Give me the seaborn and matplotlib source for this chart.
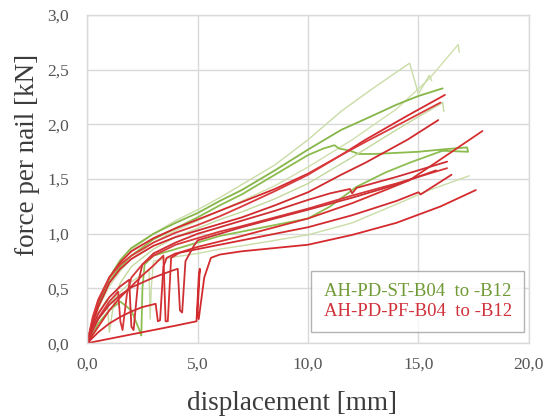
import matplotlib
matplotlib.use("Agg")
import matplotlib.pyplot as plt
from matplotlib.lines import Line2D
import pandas as pd
import seaborn as sns

# displacement [mm] / force per nail [kN]
st_curves = {
    "ST-1": ([0, 0.25, 0.5, 1, 1.5, 2, 3, 4, 5, 6, 7, 8.5, 10, 12, 14, 15.5, 16.8, 16.85],
             [0, 0.18, 0.32, 0.52, 0.66, 0.77, 0.92, 1.03, 1.12, 1.21, 1.3, 1.44, 1.61, 1.86, 2.14, 2.42, 2.73, 2.66]),
    "ST-2": ([0, 0.25, 0.5, 1, 1.5, 2, 3, 4, 5, 6, 7, 8.5, 10, 11.5, 12.8, 13.8, 14.6, 15.0, 15.5, 15.6],
             [0, 0.2, 0.36, 0.58, 0.73, 0.85, 1.0, 1.12, 1.22, 1.33, 1.45, 1.63, 1.86, 2.12, 2.31, 2.45, 2.56, 2.28, 2.45, 2.4]),
    "ST-3": ([0, 0.25, 0.5, 1, 1.5, 2, 3, 4, 5, 6, 7, 8.5, 10, 11.5, 12.6, 14, 15, 16.1],
             [0, 0.22, 0.38, 0.6, 0.76, 0.87, 1.0, 1.1, 1.19, 1.3, 1.4, 1.58, 1.77, 1.95, 2.05, 2.18, 2.26, 2.33]),
    "ST-4": ([0, 0.25, 0.5, 1, 1.5, 2, 3, 4, 5, 6, 7, 8.5, 10, 10.7, 11.2, 11.4, 11.9, 12.3, 13, 14, 15, 16, 17.2, 17.25, 16.0],
             [0, 0.2, 0.35, 0.56, 0.7, 0.8, 0.95, 1.05, 1.15, 1.26, 1.36, 1.54, 1.72, 1.78, 1.81, 1.78, 1.76, 1.73, 1.73, 1.74, 1.75, 1.77, 1.79, 1.75, 1.76]),
    "ST-5": ([0, 0.5, 1, 1.5, 2.0, 2.4, 2.45, 2.5, 2.6, 3, 4, 5, 6, 7, 8.5, 10, 11, 12.2, 13.5, 14.6, 16.1],
             [0, 0.18, 0.3, 0.38, 0.3, 0.1, 0.07, 0.5, 0.72, 0.8, 0.86, 0.92, 0.98, 1.02, 1.08, 1.14, 1.25, 1.43, 1.56, 1.65, 1.76]),
    "ST-6": ([0, 0.25, 0.5, 1, 1.5, 2, 2.5, 2.8, 2.85, 2.9, 3.0, 4, 5, 6, 7, 8.5, 10, 12, 14, 15.5, 17.3],
             [0, 0.12, 0.22, 0.36, 0.47, 0.56, 0.63, 0.67, 0.22, 0.5, 0.75, 0.79, 0.82, 0.86, 0.89, 0.94, 0.99, 1.1, 1.27, 1.4, 1.53]),
    "ST-7": ([0, 0.25, 0.5, 0.9, 1.0, 1.15, 1.3, 1.5, 2, 3, 4, 5, 6, 7, 8.5, 10, 12, 14, 15, 16.1, 16.15],
             [0, 0.15, 0.28, 0.4, 0.1, 0.3, 0.45, 0.55, 0.7, 0.86, 0.97, 1.05, 1.13, 1.2, 1.32, 1.46, 1.7, 1.95, 2.07, 2.2, 2.12]),
}
pf_curves = {
    "PF-1": ([0, 0.25, 0.5, 1, 1.5, 2, 3, 4, 5, 6, 7, 8.5, 10, 11.5, 12.6, 14.5, 16.2],
             [0, 0.22, 0.38, 0.6, 0.74, 0.84, 0.96, 1.05, 1.13, 1.21, 1.29, 1.41, 1.55, 1.72, 1.86, 2.08, 2.27]),
    "PF-2": ([0, 0.25, 0.5, 1, 1.5, 2, 3, 4, 5, 6, 7, 8.5, 10, 11.5, 12.6, 14.5, 16.0],
             [0, 0.24, 0.4, 0.6, 0.72, 0.8, 0.92, 1.01, 1.08, 1.16, 1.25, 1.39, 1.54, 1.72, 1.84, 2.04, 2.2]),
    "PF-3": ([0, 0.25, 0.5, 1, 1.5, 2, 3, 4, 5, 6, 7, 8.5, 10, 11.5, 12.6, 14.5, 15.9],
             [0, 0.18, 0.33, 0.55, 0.68, 0.77, 0.89, 0.97, 1.03, 1.09, 1.15, 1.26, 1.38, 1.54, 1.65, 1.86, 2.04]),
    "PF-4": ([0, 0.5, 1, 1.5, 2, 2.5, 3, 3.45, 3.55, 3.65, 3.8, 4.2, 5, 6, 7, 8.5, 10, 12, 13.5, 14.6, 16, 17.9],
             [0, 0.15, 0.3, 0.42, 0.52, 0.62, 0.71, 0.8, 0.2, 0.2, 0.78, 0.83, 0.88, 0.93, 0.98, 1.06, 1.14, 1.28, 1.4, 1.49, 1.68, 1.94]),
    "PF-5": ([0, 0.25, 0.5, 1, 1.5, 1.9, 2.0, 2.1, 2.3, 2.5, 3, 4, 5, 6, 7, 8.5, 10, 11, 11.9, 12.0, 12.2, 14, 16.3],
             [0, 0.15, 0.27, 0.42, 0.52, 0.58, 0.15, 0.12, 0.55, 0.72, 0.82, 0.92, 1.0, 1.06, 1.12, 1.21, 1.31, 1.37, 1.41, 1.37, 1.42, 1.52, 1.66]),
    "PF-6": ([0, 0.25, 0.5, 1, 1.4, 1.5, 1.6, 1.8, 2, 2.5, 3, 4, 5, 6, 7, 8.5, 10, 12, 14, 16.3],
             [0, 0.12, 0.23, 0.38, 0.47, 0.2, 0.12, 0.45, 0.6, 0.72, 0.8, 0.9, 0.96, 1.02, 1.07, 1.15, 1.23, 1.35, 1.46, 1.6]),
    "PF-7": ([0, 0.5, 1, 1.5, 2, 2.5, 3.1, 3.2, 3.3, 3.45, 3.6, 4, 5, 6, 7, 8.5, 10, 12, 14, 15.0, 15.1, 16.5],
             [0, 0.1, 0.18, 0.24, 0.29, 0.33, 0.36, 0.2, 0.21, 0.7, 0.78, 0.82, 0.86, 0.9, 0.94, 1.0, 1.06, 1.17, 1.3, 1.38, 1.36, 1.54]),
    "PF-8": ([0, 0.5, 1, 2, 3, 4, 4.95, 5.05, 5.1, 5.0, 5.05, 5.3, 5.6, 6, 7, 8.5, 10, 12, 14, 16, 17.6],
             [0, 0.02, 0.04, 0.08, 0.12, 0.16, 0.2, 0.6, 0.68, 0.3, 0.22, 0.6, 0.78, 0.81, 0.84, 0.87, 0.9, 0.99, 1.1, 1.25, 1.4]),
    "PF-9": ([0, 0.25, 0.5, 1, 1.5, 2, 3, 3.8, 4.1, 4.2, 4.3, 4.45, 4.8, 5, 6, 7, 8.5, 10, 12, 14, 15.8],
             [0, 0.12, 0.22, 0.35, 0.44, 0.51, 0.6, 0.66, 0.68, 0.3, 0.28, 0.75, 0.88, 0.94, 1.0, 1.06, 1.14, 1.22, 1.33, 1.45, 1.58]),
}

st_colors = ["#cfe0ad", "#c9dca6", "#86b548", "#8bbb4c", "#8ebd52", "#cadda8", "#c2d89c"]
pf_colors = ["#d42a2e", "#da3a3c", "#d02a2e", "#d6302f", "#cf2e33", "#d8383a", "#d22c30", "#d42a2e", "#cd3034"]

x_ticks = [0, 5, 10, 15, 20]
y_ticks = [0, 0.5, 1.0, 1.5, 2.0, 2.5, 3.0]

rows = []
palette = {}
for (name, (xs, ys)), col in list(zip(st_curves.items(), st_colors)) + list(zip(pf_curves.items(), pf_colors)):
    palette[name] = col
    for i, (x, y) in enumerate(zip(xs, ys)):
        rows.append({"curve": name, "step": i, "displacement": x, "force": y})
df = pd.DataFrame(rows)

sns.set_theme(style="white")
plt.rcParams["font.family"] = ["Liberation Serif", "DejaVu Serif"]

fig = plt.figure(figsize=(5.52, 4.19), dpi=100)
ax = fig.add_axes([0.158, 0.181, 0.8, 0.783])

for name in list(st_curves) + list(pf_curves):
    sub = df[df["curve"] == name]
    lw = 1.0 if palette[name][1] in "cd" and name.startswith("ST") else 1.3
    sns.lineplot(data=sub, x="displacement", y="force", sort=False, estimator=None,
                 color=palette[name], lw=lw, ax=ax, legend=False)

ax.set_xlim(0, 20)
ax.set_ylim(0, 3)
ax.set_xticks(x_ticks)
ax.set_yticks(y_ticks)
ax.set_xticklabels([f"{t:.1f}".replace(".", ",") for t in x_ticks])
ax.set_yticklabels([f"{t:.1f}".replace(".", ",") for t in y_ticks])
ax.tick_params(axis="both", labelsize=12.5, labelcolor="#555555", length=0)
ax.tick_params(axis="y", pad=13)
ax.tick_params(axis="x", pad=10)
ax.grid(True, color="#d9d9d9", lw=1.0)
for sp in ax.spines.values():
    sp.set_color("#d9d9d9")
    sp.set_linewidth(1.0)
ax.set_xlabel("displacement [mm]", fontsize=19.5, color="#3c3c3c")
ax.set_ylabel("force per nail [kN]", fontsize=19.5, color="#3c3c3c")
ax.xaxis.set_label_coords(0.463, -0.145)
ax.yaxis.set_label_coords(-0.106, 0.573)

handles = [Line2D([], [], lw=0), Line2D([], [], lw=0)]
leg = ax.legend(handles, ["AH-PD-ST-B04  to -B12", "AH-PD-PF-B04  to -B12"],
                loc="lower right", bbox_to_anchor=(0.989, 0.034), borderaxespad=0,
                handlelength=0, handletextpad=0,
                fontsize=13.5, frameon=True, fancybox=False, edgecolor="#a0a0a0",
                borderpad=0.65, labelspacing=0.15)
leg.get_frame().set_linewidth(1.0)
for txt, c in zip(leg.get_texts(), ["#6f9a35", "#d0303a"]):
    txt.set_color(c)

fig.savefig("out.png", dpi=100)
